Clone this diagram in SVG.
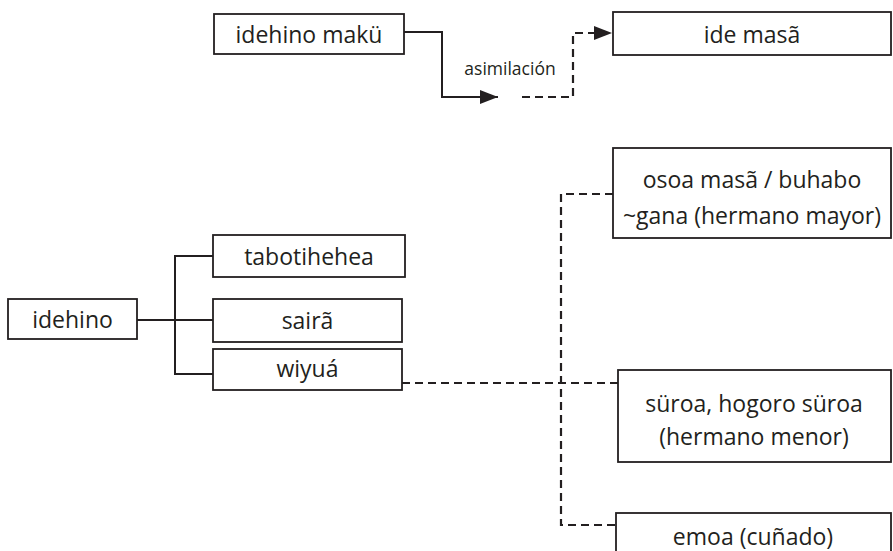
<svg xmlns="http://www.w3.org/2000/svg" width="893" height="551" viewBox="0 0 893 551">
  <style>
    .box { fill: #ffffff; stroke: #231f20; stroke-width: 1.8; }
    .lbl { font-family: "Open Sans", "DejaVu Sans", sans-serif; font-size: 23px; fill: #231f20; text-anchor: middle; }
    .small { font-family: "Open Sans", "DejaVu Sans", sans-serif; font-size: 17.5px; fill: #231f20; text-anchor: middle; }
    .solid { fill: none; stroke: #231f20; stroke-width: 2; }
    .dash { fill: none; stroke: #231f20; stroke-width: 2.2; stroke-dasharray: 8 5; }
  </style>
  <defs>
    <marker id="arrow" viewBox="0 0 18 14" refX="18" refY="7" markerWidth="18" markerHeight="14" markerUnits="userSpaceOnUse" orient="auto">
      <path d="M0,0 L18,7 L0,14 Z" fill="#231f20"/>
    </marker>
  </defs>

  <rect width="893" height="551" fill="#ffffff"/>

  <!-- connectors -->
  <g id="connectors">
    <!-- assimilation: makü to masã -->
    <polyline class="solid" points="404,32 442,32 442,97 498,97" marker-end="url(#arrow)"/>
    <polyline class="dash" points="522,97 573,97 573,33 612,33" marker-end="url(#arrow)"/>
    <!-- tree of idehino -->
    <line class="solid" x1="137" y1="320" x2="213" y2="320"/>
    <polyline class="solid" points="213,256 175,256 175,374 213,374"/>
    <!-- wiyuá relations -->
    <line class="dash" x1="402" y1="383" x2="618" y2="383"/>
    <polyline class="dash" points="613,194 561,194 561,525 616,525"/>
  </g>

  <g id="label-asimilacion">
    <text class="small" x="510" y="75">asimilación</text>
  </g>

  <g id="node-idehino-maku">
    <rect class="box" x="214" y="14" width="190" height="40"/>
    <text class="lbl" x="309" y="43">idehino makü</text>
  </g>

  <g id="node-ide-masa">
    <rect class="box" x="613" y="12" width="278" height="43"/>
    <text class="lbl" x="752" y="43">ide masã</text>
  </g>

  <g id="node-idehino">
    <rect class="box" x="8" y="299" width="129" height="40"/>
    <text class="lbl" x="72.5" y="328">idehino</text>
  </g>

  <g id="node-tabotihehea">
    <rect class="box" x="213" y="235" width="192" height="42"/>
    <text class="lbl" x="309" y="265">tabotihehea</text>
  </g>

  <g id="node-saira">
    <rect class="box" x="213" y="299" width="189" height="43"/>
    <text class="lbl" x="307.5" y="329">sairã</text>
  </g>

  <g id="node-wiyua">
    <rect class="box" x="213" y="349" width="189" height="41"/>
    <text class="lbl" x="307.5" y="377">wiyuá</text>
  </g>

  <g id="node-osoa">
    <rect class="box" x="613" y="148" width="278" height="90"/>
    <text class="lbl" x="752" y="188">osoa masã / buhabo</text>
    <text class="lbl" x="752" y="224">~gana (hermano mayor)</text>
  </g>

  <g id="node-suroa">
    <rect class="box" x="618" y="370" width="273" height="92"/>
    <text class="lbl" x="754" y="412">süroa, hogoro süroa</text>
    <text class="lbl" x="754" y="445">(hermano menor)</text>
  </g>

  <g id="node-emoa">
    <rect class="box" x="616" y="513" width="275" height="50"/>
    <text class="lbl" x="753" y="545">emoa (cuñado)</text>
  </g>
</svg>
